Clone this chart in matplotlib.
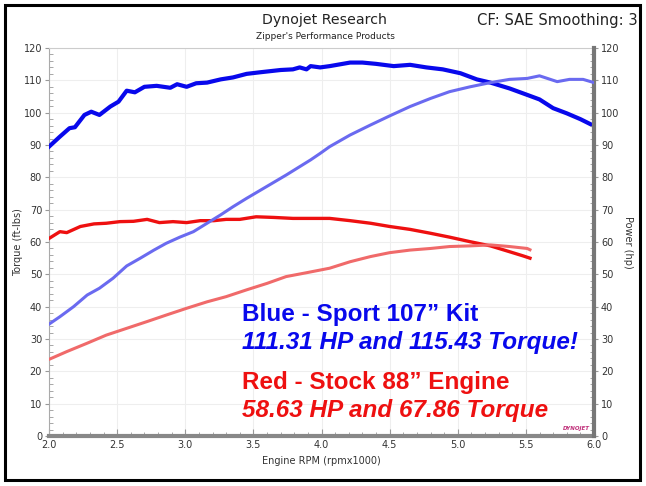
import numpy as np
import matplotlib
matplotlib.use('Agg')
import matplotlib.pyplot as plt
from matplotlib.ticker import MultipleLocator

# ── data ─────────────────────────────────────────────────────────────────────
rpm_blue_tq = [2.00, 2.08, 2.15, 2.19, 2.26, 2.31, 2.37, 2.45, 2.51, 2.57, 2.63,
               2.70, 2.79, 2.89, 2.94, 3.01, 3.08, 3.16, 3.26, 3.35, 3.45, 3.55,
               3.70, 3.79, 3.84, 3.89, 3.92, 3.99, 4.06, 4.21, 4.30, 4.40, 4.53,
               4.65, 4.77, 4.89, 5.02, 5.14, 5.24, 5.38, 5.51, 5.60, 5.70, 5.80,
               5.90, 6.00]
blue_torque = [89.5, 92.6, 95.2, 95.5, 99.3, 100.3, 99.3, 101.9, 103.4, 106.8, 106.3,
               108.0, 108.3, 107.7, 108.8, 108.0, 109.1, 109.3, 110.3, 110.9, 112.0, 112.5,
               113.2, 113.4, 114.0, 113.4, 114.4, 114.0, 114.4, 115.5, 115.5, 115.1, 114.4,
               114.8, 114.0, 113.4, 112.2, 110.3, 109.3, 107.5, 105.5, 104.1, 101.4, 99.8,
               98.0, 95.9]

rpm_blue_hp = [2.00, 2.08, 2.18, 2.28, 2.37, 2.47, 2.57, 2.67, 2.77, 2.86, 2.96,
               3.06, 3.16, 3.26, 3.35, 3.45, 3.74, 3.92, 3.99, 4.06, 4.21, 4.36,
               4.50, 4.65, 4.80, 4.94, 5.09, 5.24, 5.38, 5.51, 5.60, 5.73, 5.82,
               5.92, 6.00]
blue_power = [34.6, 36.9, 40.0, 43.6, 45.7, 48.8, 52.6, 55.0, 57.5, 59.6, 61.5,
              63.2, 65.8, 68.4, 70.9, 73.5, 80.7, 85.4, 87.4, 89.5, 93.1, 96.2,
              99.0, 101.9, 104.4, 106.5, 108.0, 109.3, 110.3, 110.6, 111.4, 109.6, 110.3,
              110.3, 109.3]

rpm_red_tq = [2.00, 2.08, 2.13, 2.23, 2.33, 2.42, 2.52, 2.62, 2.72, 2.81, 2.91,
              3.01, 3.11, 3.21, 3.30, 3.40, 3.52, 3.65, 3.79, 3.92, 4.06, 4.21,
              4.36, 4.50, 4.65, 4.80, 4.94, 5.09, 5.24, 5.38, 5.48, 5.53]
red_torque = [61.1, 63.2, 62.9, 64.8, 65.6, 65.8, 66.3, 66.4, 67.0, 66.0, 66.3,
              66.0, 66.6, 66.6, 67.0, 67.0, 67.8, 67.6, 67.3, 67.3, 67.3, 66.6,
              65.8, 64.8, 63.9, 62.7, 61.5, 60.1, 58.8, 57.0, 55.7, 55.0]

rpm_red_hp = [2.00, 2.13, 2.28, 2.42, 2.57, 2.72, 2.86, 3.01, 3.16, 3.30, 3.45,
              3.60, 3.74, 3.89, 4.06, 4.21, 4.36, 4.50, 4.65, 4.80, 4.94, 5.09,
              5.24, 5.38, 5.51, 5.53]
red_power = [23.7, 26.1, 28.7, 31.2, 33.3, 35.4, 37.4, 39.5, 41.5, 43.1, 45.2,
             47.2, 49.3, 50.5, 51.9, 53.9, 55.5, 56.7, 57.5, 58.0, 58.6, 58.8,
             59.1, 58.6, 58.0, 57.6]

blue_lines = ['Blue - Sport 107\u201d Kit', '111.31 HP and 115.43 Torque!']
red_lines = ['Red - Stock 88\u201d Engine', '58.63 HP and 67.86 Torque']

# ── figure ───────────────────────────────────────────────────────────────────
plt.rcParams['font.family'] = ['DejaVu Sans']
fig = plt.figure(figsize=(6.46, 4.86), dpi=100)
ax = fig.add_axes([0.0759, 0.1029, 0.8436, 0.7983])
ax2 = ax.twinx()

frame = plt.Rectangle((0.008, 0.012), 0.983, 0.978, transform=fig.transFigure,
                      fill=False, edgecolor='black', linewidth=2.2)
fig.patches.append(frame)

ax.plot(rpm_blue_tq, blue_torque, color='#0808ec', lw=3.0, zorder=4)
ax.plot(rpm_red_tq, red_torque, color='#ee1010', lw=2.4, zorder=4)
ax2.plot(rpm_blue_hp, blue_power, color='#6a6af0', lw=2.2, zorder=3)
ax2.plot(rpm_red_hp, red_power, color='#f06a6a', lw=2.2, zorder=3)

for a in (ax, ax2):
    a.set_xlim(2.0, 6.0)
    a.set_ylim(0, 120)
    a.yaxis.set_major_locator(MultipleLocator(10))
    a.yaxis.set_minor_locator(MultipleLocator(2))
    a.tick_params(axis='y', which='major', length=3, width=0.8, color='#999999',
                  labelsize=7, labelcolor='#333333', pad=2)
    a.tick_params(axis='y', which='minor', direction='in', length=3, width=0.6,
                  color='#999999')

ax.xaxis.set_major_locator(MultipleLocator(0.5))
ax.xaxis.set_minor_locator(MultipleLocator(0.1))
ax.xaxis.set_major_formatter(matplotlib.ticker.FormatStrFormatter('%.1f'))
ax.tick_params(axis='x', which='major', direction='in', length=5, width=0.8,
               color='#999999', labelsize=7, labelcolor='#333333', pad=3)
ax.tick_params(axis='x', which='minor', direction='in', length=3, width=0.6,
               color='#999999')
ax.grid(True, which='major', color='#eeeeee', lw=0.8)
ax.set_axisbelow(True)

ax.spines['top'].set_color('#cccccc')
ax.spines['left'].set_color('#aaaaaa')
ax.spines['bottom'].set_color('#888888')
ax.spines['bottom'].set_linewidth(3)
ax2.spines['right'].set_color('#777777')
ax2.spines['right'].set_linewidth(3)
for s in ('top', 'left', 'bottom'):
    ax2.spines[s].set_visible(False)

ax.set_xlabel('Engine RPM (rpmx1000)', fontsize=7, color='#333333', labelpad=4)
ax.set_ylabel('Torque (ft-lbs)', fontsize=7, color='#333333')
ax.yaxis.set_label_coords(-0.047, 0.5)
ax2.set_ylabel('Power (hp)', fontsize=7, color='#333333', rotation=270, labelpad=10)

fig.text(0.503, 0.958, 'Dynojet Research', ha='center', va='center',
         fontsize=10.2, color='#222222')
fig.text(0.503, 0.925, "Zipper's Performance Products", ha='center', va='center',
         fontsize=6.5, color='#222222')
fig.text(0.987, 0.958, 'CF: SAE Smoothing: 3', ha='right', va='center',
         fontsize=10.6, color='#222222')

fs = 17.5
x0 = 0.374
fig.text(x0, 0.352, blue_lines[0], color='#0808ec', fontsize=fs,
         fontweight='bold', family='Liberation Sans', va='center')
fig.text(x0, 0.296, blue_lines[1], color='#0808ec', fontsize=fs,
         fontweight='bold', style='italic', family='Liberation Sans', va='center')
fig.text(x0, 0.212, red_lines[0], color='#ee1010', fontsize=fs,
         fontweight='bold', family='Liberation Sans', va='center')
fig.text(x0, 0.156, red_lines[1], color='#ee1010', fontsize=fs,
         fontweight='bold', style='italic', family='Liberation Sans', va='center')

ax.text(5.97, 1.5, 'DYNOJET', ha='right', va='bottom', fontsize=4,
        fontweight='bold', style='italic', color='#c0307a', zorder=5)

fig.savefig('out.png', dpi=100)
